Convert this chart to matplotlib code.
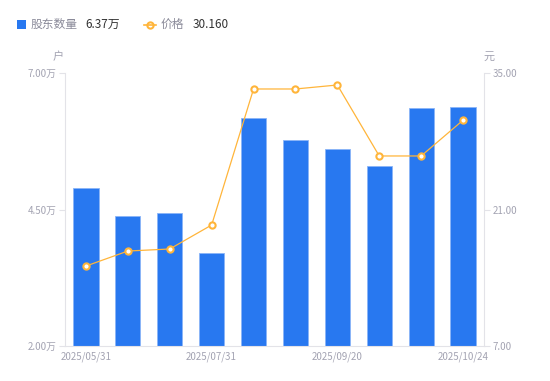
import matplotlib.pyplot as plt
from matplotlib.patches import Rectangle
from matplotlib.lines import Line2D

plt.rcParams['font.family'] = ['Noto Sans CJK SC', 'DejaVu Sans']

# 数据
dates = ["2025/05/31", "2025/06/20", "2025/06/30", "2025/07/31", "2025/08/10",
         "2025/08/20", "2025/09/20", "2025/09/30", "2025/10/10", "2025/10/24"]
holders = [4.89, 4.38, 4.44, 3.70, 6.18, 5.77, 5.61, 5.30, 6.36, 6.37]  # 万户
price = [15.20, 16.74, 16.95, 19.41, 33.36, 33.36, 33.77, 26.49, 26.49, 30.16]
left_ticks = [2.0, 4.5, 7.0]
right_ticks = [7.0, 21.0, 35.0]
shown_idx = [0, 3, 6, 9]

BAR = "#2878f0"
LINE = "#ffb53a"
GREY = "#a3a3b2"
AXC = "#e3e3e8"

fig = plt.figure(figsize=(5.5, 3.81), dpi=100)
ax = fig.add_axes([65/550, 1-346/381, (484-65)/550, (346-73)/381])
ax2 = ax.twinx()

x = list(range(len(dates)))
ax.bar(x, holders, width=0.6, color=BAR, edgecolor="#8ab4f8", linewidth=0.6, zorder=2)
ax.set_ylim(2.0, 7.0)
ax.set_xlim(-0.5, len(dates) - 0.5)
ax.set_yticks(left_ticks)
ax.set_yticklabels([f"{v:.2f}万" for v in left_ticks])
ax.set_xticks([x[i] for i in shown_idx])
ax.set_xticklabels([dates[i] for i in shown_idx])

ax2.plot(x, price, color=LINE, linewidth=0.9, marker="o", markersize=4.5,
         markerfacecolor="white", markeredgecolor=LINE, markeredgewidth=1.5, zorder=3)
ax2.set_ylim(7.0, 35.0)
ax2.set_yticks(right_ticks)
ax2.set_yticklabels([f"{v:.2f}" for v in right_ticks])

for a in (ax, ax2):
    for s in a.spines.values():
        s.set_visible(False)
    a.tick_params(colors=AXC, labelcolor=GREY, labelsize=7, length=4, width=0.8)
ax.spines["left"].set_visible(True)
ax.spines["left"].set_color(AXC)
ax.spines["bottom"].set_visible(True)
ax.spines["bottom"].set_color(AXC)
ax2.spines["right"].set_visible(True)
ax2.spines["right"].set_color(AXC)
ax.tick_params(axis="x", length=0, pad=4)
ax.tick_params(axis="y", pad=2)
ax2.tick_params(axis="y", pad=2)

# 单位
fig.text(58/550, 1-57/381, "户", color=GREY, fontsize=8, ha="center", va="center")
fig.text(489/550, 1-57/381, "元", color=GREY, fontsize=8, ha="center", va="center")

# 图例
fig.add_artist(Rectangle((17/550, 1-29/381), 9/550, 9/381, transform=fig.transFigure,
                         facecolor=BAR, edgecolor="none"))
fig.text(31/550, 1-24.5/381, "股东数量", color="#8a8a99", fontsize=8.5, va="center")
fig.text(85/550, 1-24.5/381, "6.37万", color="#333333", fontsize=8.5, va="center")
fig.add_artist(Line2D([144/550, 156/550], [1-24.5/381, 1-24.5/381], transform=fig.transFigure,
                      color=LINE, linewidth=1.2, marker="o", markevery=[], zorder=5))
fig.add_artist(Line2D([150/550], [1-24.5/381], transform=fig.transFigure, color=LINE,
                      marker="o", markersize=4.5, markerfacecolor="white",
                      markeredgecolor=LINE, markeredgewidth=1.5))
fig.text(161/550, 1-24.5/381, "价格", color="#8a8a99", fontsize=8.5, va="center")
fig.text(193/550, 1-24.5/381, "30.160", color="#333333", fontsize=8.5, va="center")

fig.savefig("out.png", dpi=100)
